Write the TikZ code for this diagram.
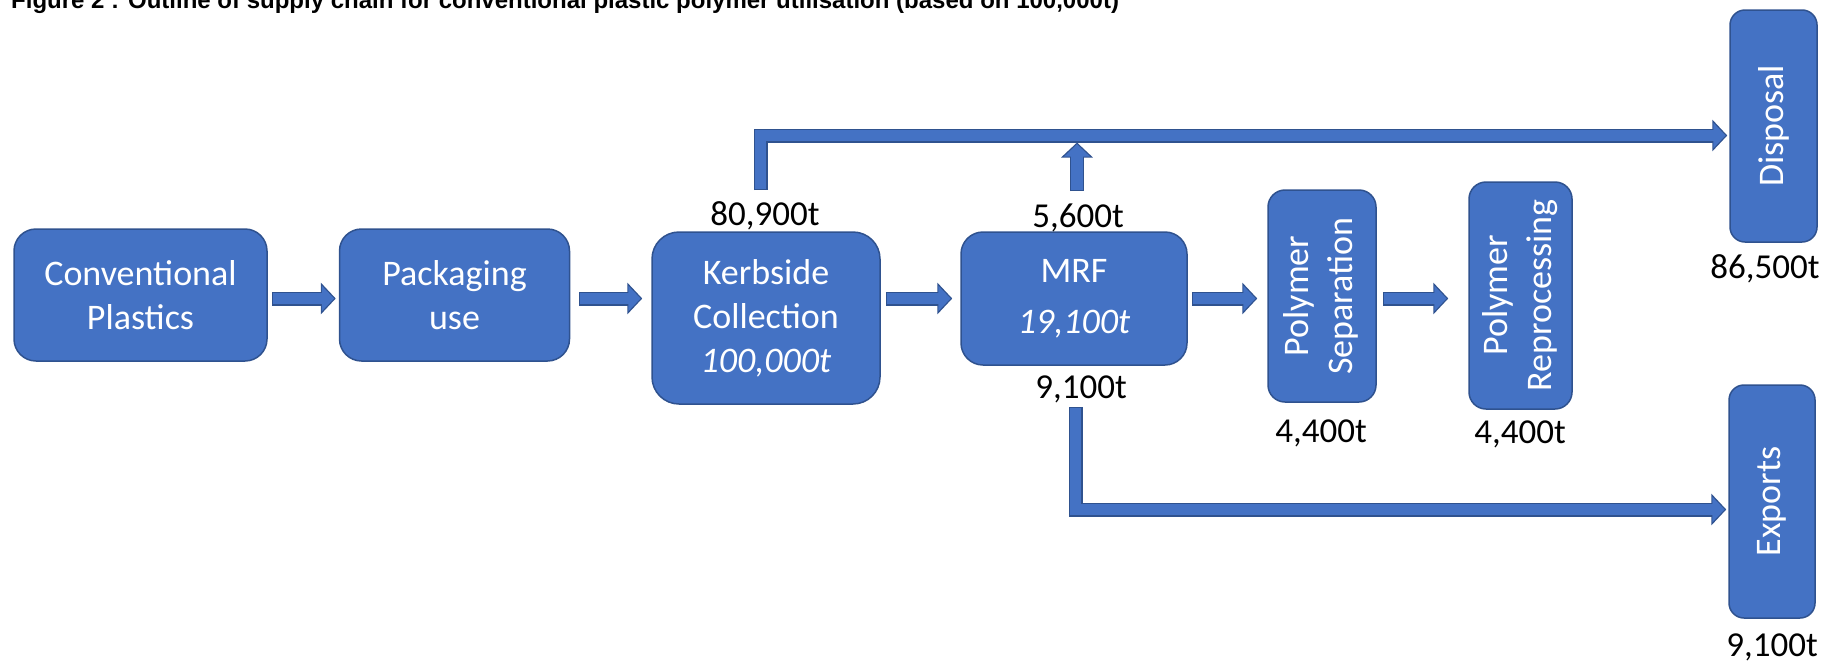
\documentclass[tikz,border=0pt]{standalone}
\usepackage{fontspec}
\usepackage{graphicx}
\setmainfont{Carlito}
\newfontfamily\titlefont{Liberation Sans}
\usetikzlibrary{arrows.meta}

\definecolor{boxblue}{HTML}{4472C4}
\definecolor{boxedge}{HTML}{2F528F}

\tikzset{
  stage/.style={draw=boxedge, line width=1.5pt, fill=boxblue, rounded corners=22pt, text=white, inner sep=0pt, align=center, font=\fontsize{36}{44}\selectfont},
  tall/.style={stage, rounded corners=17pt},
  qty/.style={anchor=base, inner sep=0pt, font=\fontsize{35}{42}\selectfont},
  flowedge/.style={draw=boxedge, line width=14pt, line join=miter, -{Triangle[length=15pt,width=31pt]}},
  flowfill/.style={draw=boxblue, line width=11.6pt, line join=miter, -{Triangle[length=12.3pt,width=25pt]}},
}

\begin{document}
\begin{tikzpicture}[x=1pt, y=-1pt]

    \useasboundingbox (0,0) rectangle (1827,662);
    \clip (0,0) rectangle (1827,662);

    \node[anchor=base west, inner sep=0pt, font=\titlefont\bfseries\fontsize{24}{28}\selectfont] (title) at (11,8.5) {Figure 2 : Outline of supply chain for conventional plastic polymer utilisation (based on 100,000t)};

    \node[stage, minimum width=253pt, minimum height=132pt] (conv) at (140.5,295) {Conventional\\Plastics};
    \node[stage, minimum width=230pt, minimum height=132pt] (pack) at (454.5,295) {Packaging\\use};
    \node[stage, minimum width=228pt, minimum height=172pt, rounded corners=27pt] (kerb) at (766,318) {Kerbside\\Collection\\\textit{100,000t}};
    \node[stage, minimum width=226pt, minimum height=133pt] (mrf) at (1074,298.5) {MRF\\[7pt]\textit{19,100t}};

    \node[tall, minimum width=108pt, minimum height=212pt] (psep) at (1322,296) {\rotatebox{90}{\begin{tabular}{@{}c@{}}Polymer\\Separation\end{tabular}}};
    \node[tall, minimum width=103pt, minimum height=227pt] (prep) at (1520.5,295.5) {\rotatebox{90}{\begin{tabular}{@{}c@{}}Polymer\\Reprocessing\end{tabular}}};

    \node[tall, minimum width=87pt, minimum height=232pt, rounded corners=15pt] (disp) at (1773.5,126) {\rotatebox{90}{Disposal}};
    \node[tall, minimum width=86pt, minimum height=233pt, rounded corners=15pt] (exp) at (1772,501.5) {\rotatebox{90}{Exports}};

    \node[qty] (lab80) at (765,225) {80,900t};
    \node[qty] (lab56) at (1078,227) {5,600t};
    \node[qty] (lab91) at (1081,398) {9,100t};
    \node[qty] (labsep) at (1321,442) {4,400t};
    \node[qty] (labrep) at (1520,443) {4,400t};
    \node[qty] (labdisp) at (1765,278) {86,500t};
    \node[qty] (labexp) at (1772,656) {9,100t};

    \foreach \a/\b/\s/\e in {conv/pack/4/3, pack/kerb/9/9, kerb/mrf/5/8, mrf/psep/4/10, psep/prep/6/20}{
      \draw[flowedge, shorten <=\s pt, shorten >=\e pt] (\a.east |- mrf) -- (\b.west |- mrf);
      \draw[flowfill, shorten <=\s pt+1.2pt, shorten >=\e pt+1.7pt] (\a.east |- mrf) -- (\b.west |- mrf);
    }

    \coordinate (kerbout) at (760.5,190);
    \coordinate (dispin) at ([yshift=-9.5pt]disp.west);
    \coordinate (mrfup) at (1077,191);
    \coordinate (mrfdown) at (1075.5,407);
    \coordinate (expin) at ([yshift=-8pt]exp.west);

    \draw[flowedge, shorten >=2pt] (kerbout) |- (dispin);
    \draw[flowfill, shorten <=1.2pt, shorten >=3.7pt] (kerbout) |- (dispin);

    \draw[flowedge, shorten >=7pt] (mrfup) -- (mrfup |- dispin);
    \draw[flowfill, shorten <=1.2pt, shorten >=8.7pt] (mrfup) -- (mrfup |- dispin);

    \draw[flowedge, shorten >=2pt] (mrfdown) |- (expin);
    \draw[flowfill, shorten <=1.2pt, shorten >=3.7pt] (mrfdown) |- (expin);

\end{tikzpicture}
\end{document}
